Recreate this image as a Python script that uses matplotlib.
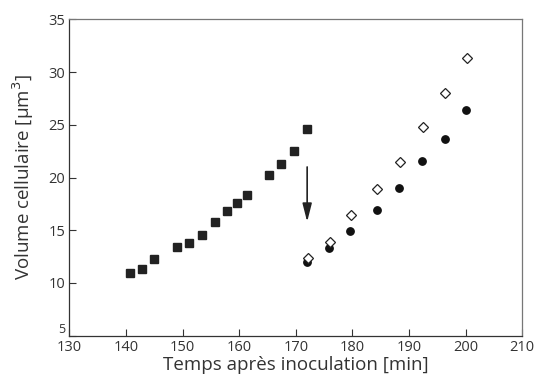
import numpy as np
import matplotlib as mpl
import matplotlib.pyplot as plt

# Data
t_before = [140.7, 142.9, 144.9, 149.0, 151.1, 153.4, 155.8, 157.8, 159.6,
            161.4, 165.2, 167.3, 169.6, 171.9]
v_before = [10.9, 11.3, 12.3, 13.4, 13.8, 14.5, 15.75, 16.8, 17.55,
            18.3, 20.2, 21.3, 22.5, 24.6]

t_after = [171.9, 175.9, 179.6, 184.3, 188.2, 192.3, 196.3, 200.0]
v_circle = [11.95, 13.35, 14.9, 16.9, 19.05, 21.55, 23.7, 26.45]
t_diamond = [172.1, 176.1, 179.7, 184.3, 188.4, 192.5, 196.4, 200.2]
v_diamond = [12.35, 13.85, 16.45, 18.9, 21.45, 24.8, 28.0, 31.3]

arrow_x = 172.0
arrow_from = 21.0
arrow_to = 15.8

xticks = [130, 140, 150, 160, 170, 180, 190, 200, 210]
yticks = [5, 10, 15, 20, 25, 30, 35]

def main():
    mpl.rcParams['font.family'] = ['Open Sans', 'DejaVu Sans']
    fig = plt.figure(figsize=(5.34, 3.88), dpi=100)
    ax = fig.add_axes([0.130, 0.135, 0.848, 0.815])

    ax.plot(t_before, v_before, 's', color='#222222', ms=5.5, mec='#222222')
    ax.plot(t_after, v_circle, 'o', color='#111111', ms=5.3, mec='#111111')
    ax.plot(t_diamond, v_diamond, 'D', mfc='white', mec='#222222', ms=4.8, mew=0.9)

    ax.annotate('', xy=(arrow_x, arrow_to), xytext=(arrow_x, arrow_from),
                arrowprops=dict(arrowstyle='-|>,head_length=1.1,head_width=0.28',
                                color='#222222', lw=1.2, shrinkA=0, shrinkB=0))

    ax.set_xlim(130, 210)
    ax.set_ylim(5, 35)
    ax.set_xticks(xticks)
    ax.set_yticks(yticks)
    ax.tick_params(direction='in', length=5, width=0.8, labelsize=10.5,
                   colors='#333333', pad=3)
    # the bottom "5" sits smaller, just above the "130"
    lab5 = ax.get_yticklabels()[0]
    lab5.set_fontsize(9)
    lab5.set_verticalalignment('bottom')
    for s in ['left', 'bottom']:
        ax.spines[s].set_color('#333333')
        ax.spines[s].set_linewidth(0.9)
    for s in ['top', 'right']:
        ax.spines[s].set_color('#777777')
        ax.spines[s].set_linewidth(0.9)

    ax.set_xlabel('Temps après inoculation [min]', fontsize=13.5, color='#333333', labelpad=1)
    ax.set_ylabel('Volume cellulaire [µm$^3$]', fontsize=13.5, color='#333333', labelpad=9)

    fig.savefig('out.png', dpi=100)

if __name__ == '__main__':
    main()
